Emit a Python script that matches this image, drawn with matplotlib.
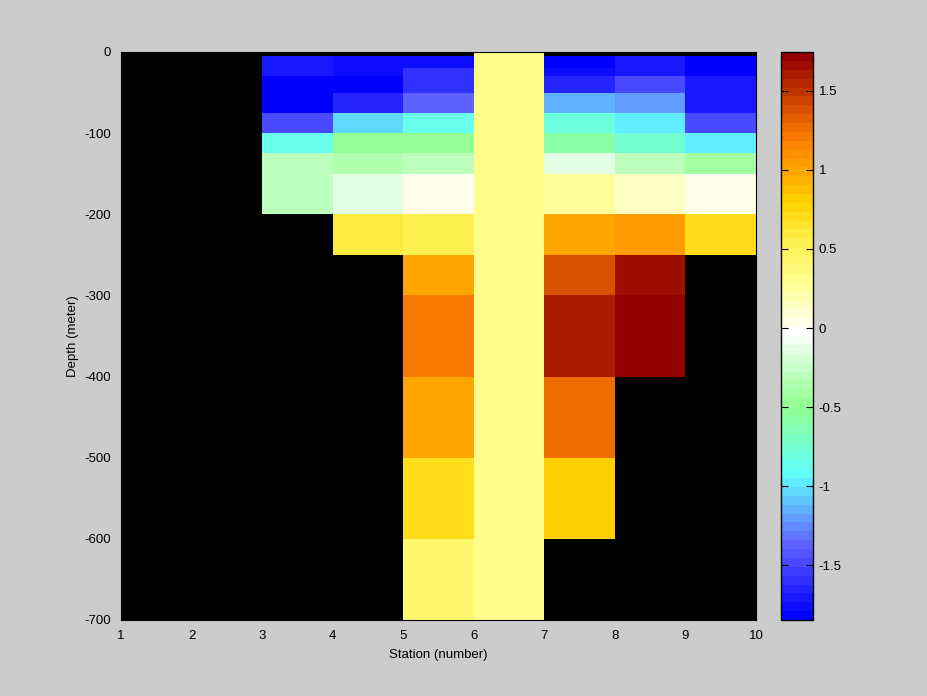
import numpy as np
import matplotlib
matplotlib.use("Agg")
import matplotlib.pyplot as plt
from matplotlib.colors import LinearSegmentedColormap, ListedColormap, Normalize

plt.rcParams['font.family'] = ['Liberation Sans Narrow', 'Liberation Sans', 'DejaVu Sans']
plt.rcParams['axes.unicode_minus'] = False

# ---- data ----
stations = [1, 2, 3, 4, 5, 6, 7, 8, 9, 10]
depth_edges = [0, 5, 10, 20, 30, 50, 75, 100, 125, 150, 200, 250, 300, 400, 500, 600, 700]
nan = np.nan
# one list per station interval (columns 1-2 ... 9-10), rows from surface down
col_1_2 = [nan] * 16
col_2_3 = [nan] * 16
col_3_4 = [nan, -1.725, -1.725, -1.725, -1.846, -1.846, -1.49, -0.88, -0.33, -0.33,
           nan, nan, nan, nan, nan, nan]
col_4_5 = [nan, -1.77, -1.75, -1.75, -1.79, -1.63, -1.06, -0.45, -0.34, -0.15,
           0.59, nan, nan, nan, nan, nan]
col_5_6 = [nan, -1.76, -1.74, -1.62, -1.62, -1.38, -0.88, -0.48, -0.275, 0.01,
           0.55, 0.97, 1.21, 1.0, 0.70, 0.43]
col_6_7 = [0.30] * 16
col_7_8 = [nan, -1.80, -1.80, -1.75, -1.67, -1.16, -0.82, -0.61, -0.154, 0.25,
           0.97, 1.405, 1.605, 1.265, 0.80, nan]
col_8_9 = [nan, -1.725, -1.707, -1.69, -1.49, -1.22, -0.99, -0.74, -0.275, 0.14,
           1.05, 1.685, 1.745, nan, nan, nan]
col_9_10 = [nan, -1.846, -1.846, -1.80, -1.725, -1.725, -1.49, -0.95, -0.396, 0.01,
            0.725, nan, nan, nan, nan, nan]

cmin, cmax = -1.846, 1.745

# colormap anchors (value, colour)
cmap_vals = [-1.846, -1.40, -0.95, -0.50, -0.02, 0.30, 0.55, 0.80, 1.00, 1.21, 1.745]
cmap_cols = ['#0000ff', '#6060ff', '#60ffff', '#90ff90', '#ffffff', '#ffff90',
             '#fff050', '#ffd400', '#ffaa00', '#ff8000', '#940000']

pos = [(v - cmin) / (cmax - cmin) for v in cmap_vals]
base = LinearSegmentedColormap.from_list('ocean', list(zip(pos, cmap_cols)))
cmap = ListedColormap(base(np.linspace(0, 1, 64)))

C = np.ma.masked_invalid(np.array([col_1_2, col_2_3, col_3_4, col_4_5, col_5_6,
                                   col_6_7, col_7_8, col_8_9, col_9_10]).T)

fig = plt.figure(figsize=(9.28, 6.96), dpi=100, facecolor='#cccccc')
ax = fig.add_axes([121/928, 76/696, 635/928, 568/696])
ax.set_facecolor('black')
X = np.array(stations, dtype=float)
Y = -np.array(depth_edges, dtype=float)
norm = Normalize(vmin=cmin, vmax=cmax)
mesh = ax.pcolormesh(X, Y, C, cmap=cmap, norm=norm, shading='flat',
                     edgecolors='none', antialiased=False)
ax.set_xlim(1, 10)
ax.set_ylim(-700, 0)
ax.set_xticks(stations)
ax.set_xticklabels([str(s) for s in stations])
yt = list(range(0, -701, -100))
ax.set_yticks(yt)
ax.set_yticklabels([str(v) for v in yt])
ax.tick_params(direction='in', length=0, labelsize=9.5,
               labelcolor='black', pad=7)
for s in ax.spines.values():
    s.set_color('black')
ax.set_xlabel('Station (number)', fontsize=9.5, labelpad=5)
ax.set_ylabel('Depth (meter)', fontsize=9.5, labelpad=4)

cax = fig.add_axes([781/928, 76/696, 32/928, 568/696])
cb = fig.colorbar(mesh, cax=cax)
cb.set_ticks([-1.5, -1, -0.5, 0, 0.5, 1, 1.5])
cb.set_ticklabels(['-1.5', '-1', '-0.5', '0', '0.5', '1', '1.5'])
cb.outline.set_edgecolor('black')
cb.outline.set_linewidth(1.0)
cax.tick_params(direction='in', length=5, left=True, right=True, color='black',
                labelsize=9.5, pad=4)

fig.savefig('out.png', dpi=100, facecolor=fig.get_facecolor())
